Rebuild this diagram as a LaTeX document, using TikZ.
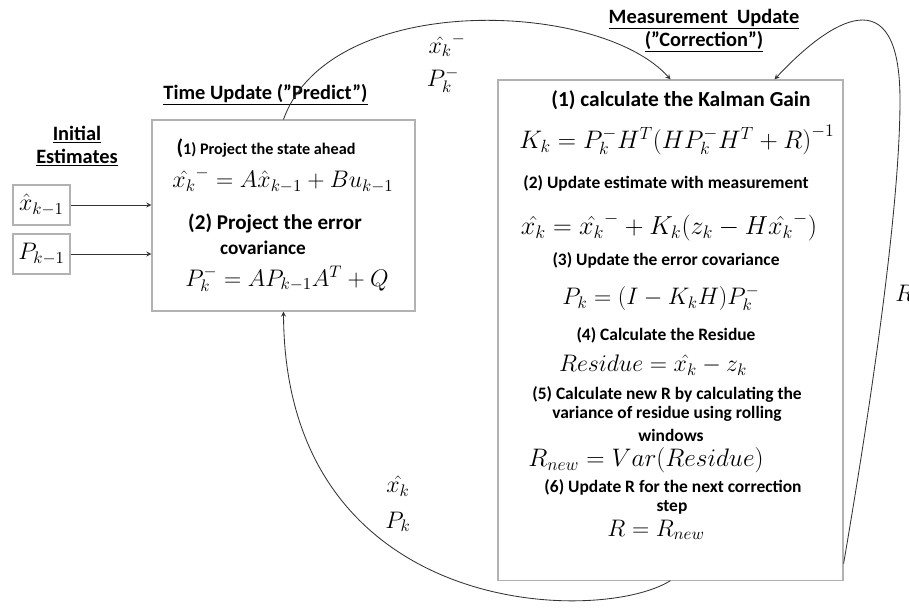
\documentclass[tikz,border=0pt]{standalone}
\usepackage{fix-cm}
\usepackage[no-math]{fontspec}
\setmainfont{Carlito}
\usetikzlibrary{positioning,arrows.meta}

\begin{document}
\begin{tikzpicture}[
    x=0.025cm, y=0.025cm,
    box/.style={draw=gray!60, line width=0.8pt, inner sep=0pt},
    title/.style={font=\fontsize{14.5}{16.5}\selectfont\bfseries, align=center},
    stepnote/.style={font=\fontsize{#1}{15}\selectfont\bfseries, inner sep=1pt},
    stepnote/.default=12.4,
    formula/.style={font=\fontsize{#1}{20}\selectfont, inner sep=0pt},
    formula/.default=17,
    arrow/.style={->, >=stealth, line width=0.6pt, draw=black!80}
]
\useasboundingbox (0,0) rectangle (909,-608);

% boxes
\node[box, minimum width=6.575cm, minimum height=4.775cm] (predict) at (283.5,-215.5) {};
\node[box, minimum width=8.625cm, minimum height=12.5cm]  (correct) at (670.5,-330) {};
\node[box, formula, minimum width=1.425cm, minimum height=1cm] (xprev) at (41.5,-205) {$\hat{x}_{k-1}$};
\node[box, formula, minimum width=1.425cm, minimum height=1cm] (pprev) at (41.5,-254) {$P_{k-1}$};

% titles
\node[title] (initial) at (77,-146) {\underline{Initial}\\\underline{Estimates}};
\node[title] (tuptitle) at (265.5,-95) {\underline{Time Update (”Predict”)}};
\node[title] (mutitle) at (704,-30.5) {\underline{Measurement\ \ Update}\\\underline{(”Correction”)}};

% time update
\node[stepnote=11.5] (p1) at (266,-148) {{\fontsize{15}{15}\selectfont(}1) Project the state ahead};
\node[formula] (pf1) at (283,-180) {$\hat{x_k}^{-} = A\hat{x}_{k-1} + Bu_{k-1}$};
\node[stepnote=15] (p2) at (275,-223) {(2) Project the error};
\node[stepnote=13.7] (p2b) at (263,-248) {covariance};
\node[formula] (pf2) at (287,-279) {$P_k^{-} = AP_{k-1}A^T + Q$};

% measurement update
\node[stepnote=15.2] (c1) at (681,-100) {(1) calculate the Kalman Gain};
\node[formula=18] (cf1) at (677,-140) {$K_k = P_k^{-}H^T\bigl(HP_k^{-}H^T + R\bigr)^{-1}$};
\node[stepnote] (c2) at (666,-183) {(2) Update estimate with measurement};
\node[formula=18.5] (cf2) at (669,-227) {$\hat{x_k} = \hat{x_k}^{-} + K_k(z_k - H\hat{x_k}^{-})$};
\node[stepnote] (c3) at (666,-260) {(3) Update the error covariance};
\node[formula] (cf3) at (661,-298) {$P_k = (I - K_kH)P_k^{-}$};
\node[stepnote] (c4) at (666,-335) {(4) Calculate the Residue};
\node[formula] (cf4) at (653,-365) {$Residue = \hat{x_k} - z_k$};
\node[stepnote] (c5) at (667,-394) {(5) Calculate new R by calculating the};
\node[stepnote] (c5b) at (667,-414) {variance of residue using rolling};
\node[stepnote] (c5c) at (671,-435) {windows};
\node[formula=18] (cf5) at (646,-460) {$R_{new} = Var(Residue)$};
\node[stepnote] (c6) at (673,-487) {(6) Update R for the next correction};
\node[stepnote] (c6b) at (672,-507) {step};
\node[formula] (cf6) at (656,-530) {$R = R_{new}$};

% loop labels
\node[formula] (xminus) at (447,-45) {$\hat{x_k}^{-}$};
\node[formula] (pminus) at (443,-80) {$P_k^{-}$};
\node[formula] (xpost) at (398,-486) {$\hat{x_k}$};
\node[formula] (ppost) at (398,-522) {$P_k$};
\node[formula, anchor=west] (rlabel) at (895,-293) {$R$};

% connectors
\draw[arrow] (xprev) -- (xprev -| predict.west);
\draw[arrow] (pprev) -- (pprev -| predict.west);
\draw[arrow] (predict.north) .. controls (330,10) and (600,0) .. (correct.north);
\draw[arrow] (correct.south) .. controls (600,-625) and (285,-620) .. (predict.south);
\draw[arrow] ([yshift=0.425cm]correct.south east) .. controls (875,-380) and (900,-200) .. (900,-100)
    .. controls (900,25) and (830,-20) .. ([xshift=2.6cm]correct.north);
\end{tikzpicture}
\end{document}
